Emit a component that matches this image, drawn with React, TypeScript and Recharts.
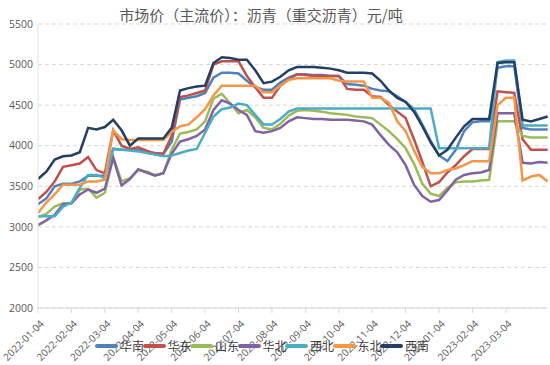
import React from "react";
import { LineChart, Line, XAxis, YAxis, CartesianGrid } from "recharts";

const monthLabels = [
  "2022-01-04", "2022-02-04", "2022-03-04", "2022-04-04", "2022-05-04",
  "2022-06-04", "2022-07-04", "2022-08-04", "2022-09-04", "2022-10-04",
  "2022-11-04", "2022-12-04", "2023-01-04", "2023-02-04", "2023-03-04",
];
const yTicks = [2000, 2500, 3000, 3500, 4000, 4500, 5000, 5500];

// weekly-ish samples (4 per month)
const huanan = [
  3280, 3350, 3500, 3530, 3530, 3560, 3630, 3630, 3630, 3960, 3950, 3950, 3950, 3930, 3910, 3900,
  4050, 4570, 4590, 4610, 4650, 4840, 4900, 4900, 4890, 4800, 4720, 4690, 4690, 4780, 4840, 4880,
  4880, 4870, 4870, 4860, 4860, 4760, 4750, 4740, 4700, 4680, 4670, 4610, 4540, 4450, 4260, 4060,
  3880, 3810, 3950, 4180, 4290, 4300, 4300, 4960, 4980, 4980, 4220, 4200, 4200, 4200,
];
const huadong = [
  3340, 3430, 3560, 3740, 3760, 3780, 3860, 3700, 3660, 4190, 4000, 3960, 3980, 3940, 3900, 3900,
  4120, 4600, 4620, 4650, 4680, 5000, 5040, 5040, 5040, 4860, 4720, 4590, 4590, 4740, 4820, 4880,
  4870, 4860, 4860, 4860, 4860, 4700, 4690, 4690, 4610, 4600, 4500, 4420, 4340, 4080, 3800, 3500,
  3550, 3670, 3760, 3870, 3960, 3960, 3960, 4670, 4660, 4650, 4080, 3950, 3950, 3950,
];
const shandong = [
  3120, 3160, 3250, 3290, 3290, 3460, 3470, 3360, 3420, 3860, 3560, 3600, 3700, 3680, 3640, 3660,
  3950, 4150, 4170, 4200, 4300, 4580, 4640, 4520, 4400, 4440, 4350, 4220, 4200, 4270, 4370, 4430,
  4440, 4430, 4420, 4400, 4390, 4380, 4360, 4350, 4340, 4260, 4180, 4080, 3970, 3780, 3530, 3410,
  3380, 3480, 3550, 3560, 3560, 3570, 3580, 4300, 4300, 4300, 4120, 4100, 4100, 4100,
];
const huabei = [
  3020, 3080, 3150, 3280, 3290, 3400, 3460, 3420, 3470, 3850, 3510, 3590, 3710, 3670, 3630, 3660,
  3900, 4050, 4080, 4120, 4200, 4440, 4560, 4520, 4440, 4380, 4180, 4160, 4180, 4220, 4300, 4350,
  4340, 4330, 4330, 4320, 4320, 4320, 4310, 4300, 4260, 4130, 4010, 3920, 3760, 3520, 3380, 3310,
  3330, 3450, 3580, 3640, 3660, 3670, 3700, 4400, 4400, 4400, 3790, 3780, 3800, 3790,
];
const xibei = [
  3130, 3130, 3130, 3250, 3300, 3480, 3640, 3640, 3600, 3960, 3950, 3940, 3930, 3910, 3890, 3870,
  3880, 3910, 3940, 3960, 4160, 4360, 4450, 4470, 4520, 4500, 4380, 4260, 4260, 4330, 4420, 4460,
  4460, 4460, 4460, 4460, 4460, 4460, 4460, 4460, 4460, 4460, 4460, 4460, 4460, 4460, 4460, 4460,
  3970, 3970, 3970, 3970, 3970, 3970, 3970, 5030, 5050, 5050, 4250, 4250, 4250, 4250,
];
const dongbei = [
  3170, 3300, 3400, 3520, 3520, 3520, 3560, 3560, 3580, 4190, 4080, 4070, 4070, 4070, 4070, 4070,
  4170, 4240, 4260, 4350, 4450, 4620, 4740, 4740, 4740, 4740, 4740, 4660, 4660, 4740, 4810, 4830,
  4830, 4830, 4830, 4830, 4800, 4790, 4790, 4790, 4590, 4590, 4530, 4300, 4180, 3940, 3740, 3660,
  3660, 3700, 3720, 3760, 3810, 3810, 3810, 4500, 4590, 4590, 3570, 3620, 3640, 3560,
];
const xinan = [
  3590, 3680, 3830, 3870, 3880, 3920, 4220, 4200, 4230, 4320, 4190, 4000, 4090, 4090, 4090, 4090,
  4220, 4680, 4710, 4730, 4740, 5020, 5090, 5080, 5060, 5060, 4930, 4770, 4790, 4850, 4930, 4970,
  4970, 4970, 4960, 4950, 4930, 4900, 4900, 4900, 4890, 4800, 4680, 4590, 4540, 4420, 4240, 4040,
  3880, 3950, 4100, 4240, 4330, 4330, 4330, 5020, 5030, 5030, 4320, 4300, 4330, 4360,
];

const seriesList = [
  { key: "huanan", name: "华南", color: "#4f81bd", values: huanan },
  { key: "huadong", name: "华东", color: "#c0504d", values: huadong },
  { key: "shandong", name: "山东", color: "#9bbb59", values: shandong },
  { key: "huabei", name: "华北", color: "#8064a2", values: huabei },
  { key: "xibei", name: "西北", color: "#4bacc6", values: xibei },
  { key: "dongbei", name: "东北", color: "#f79646", values: dongbei },
  { key: "xinan", name: "西南", color: "#243f63", values: xinan },
];

const data = huanan.map((_, i) => {
  const row: any = { x: i / 4 };
  seriesList.forEach((s) => {
    row[s.key] = s.values[i];
  });
  return row;
});

const monthTicks = monthLabels.map((_, i) => i);

const DateTick = ({ x, y, payload }: any) => (
  <g transform={`translate(${x + 4},${y + 7})`}>
    <text
      x={0}
      y={0}
      dy="0.35em"
      textAnchor="end"
      transform="rotate(-45)"
      fontSize={10}
      fontFamily="Open Sans"
      fill="#595959"
    >
      {monthLabels[payload.value]}
    </text>
  </g>
);

const App = () => {
  return (
    <div style={{ position: "absolute", left: 0, top: 0, width: 550, height: 365, background: "#fff" }}>
      <LineChart
        width={550}
        height={365}
        data={data}
        margin={{ top: 24, right: 2, left: 0, bottom: 0 }}
      >
        <CartesianGrid vertical={false} stroke="#d9d9d9" strokeDasharray="4 3" />
        <XAxis
          type="number"
          dataKey="x"
          domain={[0, 15.26]}
          ticks={monthTicks}
          allowDataOverflow
          height={57}
          axisLine={{ stroke: "#d9d9d9" }}
          tickLine={{ stroke: "#d9d9d9" }}
          tickSize={5}
          tick={<DateTick />}
          interval={0}
        />
        <YAxis
          domain={[2000, 5500]}
          ticks={yTicks}
          width={38}
          axisLine={{ stroke: "#e3e3e3" }}
          tickLine={false}
          tickSize={4}
          tickMargin={1}
          tick={{ fontSize: 10.5, fill: "#595959", fontFamily: "Open Sans" }}
        />
        {seriesList.map((s) => (
          <Line
            key={s.key}
            dataKey={s.key}
            name={s.name}
            stroke={s.color}
            strokeWidth={2.5}
            dot={false}
            type="linear"
            isAnimationActive={false}
          />
        ))}
      </LineChart>
      <div
        style={{
          position: "absolute",
          left: 0,
          top: 4,
          width: 522,
          textAlign: "center",
          fontSize: 15,
          color: "#595959",
          fontFamily: "Noto Sans CJK SC",
          whiteSpace: "nowrap",
        }}
      >
        市场价（主流价）：沥青（重交沥青）元/吨
      </div>
      <div
        style={{
          position: "absolute",
          left: 95,
          top: 338,
          display: "flex",
          alignItems: "center",
          fontFamily: "Noto Sans CJK SC",
          fontSize: 12,
          lineHeight: "16px",
          color: "#404040",
          whiteSpace: "nowrap",
        }}
      >
        {seriesList.map((s) => (
          <div
            key={s.key}
            style={{ display: "flex", alignItems: "center", width: 47.5, flexShrink: 0, whiteSpace: "nowrap" }}
          >
            <span
              style={{
                display: "inline-block",
                width: 23,
                height: 4,
                borderRadius: 2,
                background: s.color,
                marginRight: 2,
                flexShrink: 0,
              }}
            />
            <span style={{ flexShrink: 0 }}>{s.name}</span>
          </div>
        ))}
      </div>
    </div>
  );
};

export default App;
